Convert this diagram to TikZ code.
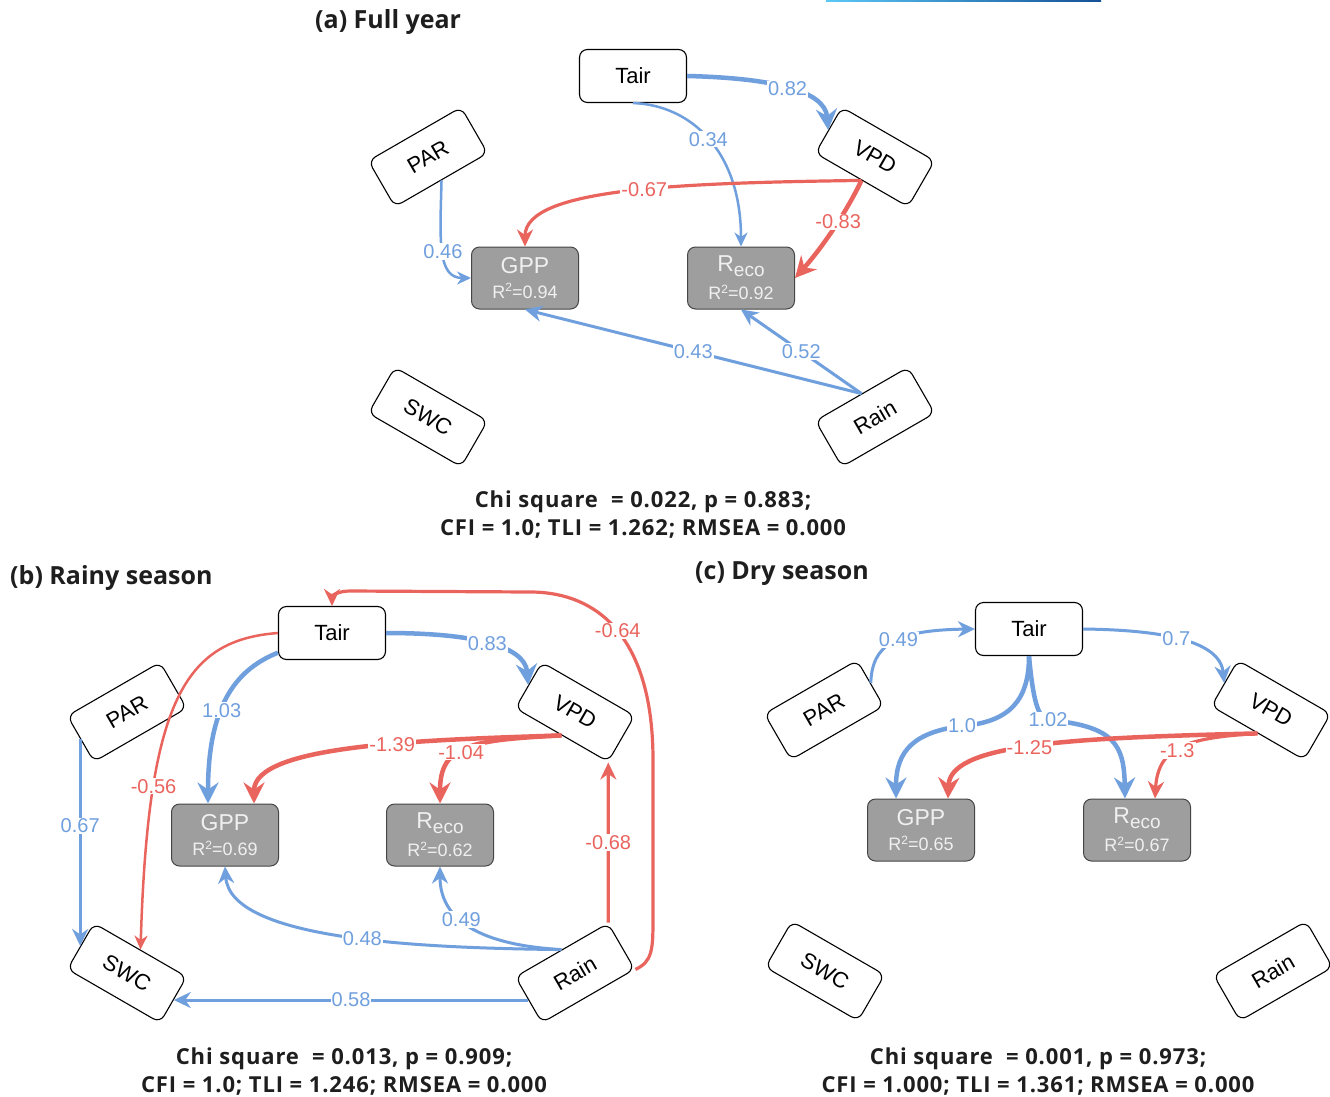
\documentclass[tikz,border=0pt]{standalone}
\usepackage{fontspec}
\setmainfont{Liberation Sans}
\newfontfamily\hdfont{Open Sans}
\newfontfamily\statfont{Open Sans}[LetterSpace=4]
\usetikzlibrary{arrows.meta,calc}
\definecolor{cblue}{RGB}{112,159,222}
\definecolor{cred}{RGB}{234,100,94}
\definecolor{boxgray}{RGB}{158,158,158}
\definecolor{boxline}{RGB}{70,70,70}
\definecolor{gradA}{RGB}{90,200,245}
\definecolor{gradB}{RGB}{20,80,150}
\definecolor{txtdark}{RGB}{30,30,30}
\newcommand{\gpptxt}[1]{{\fontsize{23}{23}\selectfont GPP}\\[9pt]{\fontsize{18}{18}\selectfont R\raisebox{6.5pt}{\fontsize{12}{12}\selectfont 2}=#1}}
\newcommand{\recotxt}[1]{{\fontsize{23}{23}\selectfont R\raisebox{-5pt}{\fontsize{19}{19}\selectfont eco}}\\[7pt]{\fontsize{18}{18}\selectfont R\raisebox{6.5pt}{\fontsize{12}{12}\selectfont 2}=#1}}
\begin{document}
\begin{tikzpicture}[x=1pt,y=-1pt,
 var/.style={draw=black, line width=1.1pt, rounded corners=8pt, fill=white, minimum width=107pt, minimum height=53pt, inner sep=0pt, font=\fontsize{22}{26}\selectfont},
 resp/.style={draw=boxline, line width=1pt, fill=boxgray, rounded corners=8pt, minimum width=107pt, minimum height=62pt, inner sep=0pt, text=white!94!black, align=center},
 bthin/.style={draw=cblue, line width=2.5pt, -{Stealth[length=14pt,width=13pt,inset=4.5pt]}},
 bmed/.style={draw=cblue, line width=3pt, -{Stealth[length=17pt,width=16pt,inset=5.5pt]}},
 bthick/.style={draw=cblue, line width=4.5pt, -{Stealth[length=21pt,width=21pt,inset=7pt]}},
 rthin/.style={draw=cred, line width=2.5pt, -{Stealth[length=14pt,width=13pt,inset=4.5pt]}},
 rmed/.style={draw=cred, line width=3.2pt, -{Stealth[length=17pt,width=16pt,inset=5.5pt]}},
 rthick/.style={draw=cred, line width=4.5pt, -{Stealth[length=21pt,width=21pt,inset=7pt]}},
 lb/.style={fill=white, text=cblue, inner sep=1pt, font=\fontsize{20}{22}\selectfont},
 lr/.style={fill=white, text=cred, inner sep=1pt, font=\fontsize{20}{22}\selectfont},
 ttl/.style={anchor=west, text=txtdark, inner sep=0pt, font=\hdfont\bfseries\fontsize{25}{28}\selectfont},
 stat/.style={align=center, text=txtdark, inner sep=0pt, font=\statfont\bfseries\fontsize{22}{28}\selectfont}
]
\path[use as bounding box, fill=white] (0,0) rectangle (1330,1097);
\shade[left color=gradA, right color=gradB] (826,0) rectangle (1101,2);

% ---------- (a) ----------
\node[ttl] (aT) at (315,22) {(a) Full year};
\node[var] (aTair) at (633,76) {Tair};
\node[var, rotate=30] (aPAR) at (428,157) {PAR};
\node[var, rotate=-30] (aVPD) at (875,157) {VPD};
\node[var, rotate=-30] (aSWC) at (428,417) {SWC};
\node[var, rotate=30] (aRain) at (875,417) {Rain};
\node[resp] (aGPP) at (525,278) {\gpptxt{0.94}};
\node[resp] (aReco) at (741,278) {\recotxt{0.92}};

\draw[bthick] (aTair.east) .. controls (770,78) and (825,90) .. (aVPD.west) node[lb,pos=0.5] (la1) {0.82};
\draw[bthin] (aTair.south) .. controls (690,105) and (741,150) .. (aReco.north) node[lb,pos=0.5] (la2) {0.34};
\draw[bthin] (aPAR.south) .. controls (440,240) and (437,278) .. (aGPP.west) node[lb,pos=0.5] (la3) {0.46};
\draw[rmed] (aVPD.south) .. controls (680,183) and (525,188) .. (aGPP.north) node[lr,pos=0.45] (la4) {-0.67};
\draw[rthick] (aVPD.south) .. controls (845,215) and (820,250) .. (aReco.east) node[lr,pos=0.4] (la5) {-0.83};
\draw[bmed] (aRain.north) -- (aGPP.south) node[lb,pos=0.5] (la6) {0.43};
\draw[bmed] (aRain.north) -- (aReco.south) node[lb,pos=0.5] (la7) {0.52};
\node[stat] (aStat) at (643,515) {Chi square~~= 0.022, p = 0.883;\\CFI = 1.0; TLI = 1.262; RMSEA = 0.000};

% ---------- (b) ----------
\node[ttl] (bT) at (10,578) {(b) Rainy season};
\node[var] (bTair) at (332,633) {Tair};
\node[var, rotate=30] (bPAR) at (127,712) {PAR};
\node[var, rotate=-30] (bVPD) at (575,712) {VPD};
\node[var, rotate=-30] (bSWC) at (127,973) {SWC};
\node[var, rotate=30] (bRain) at (575,973) {Rain};
\node[resp] (bGPP) at (225,835) {\gpptxt{0.69}};
\node[resp] (bReco) at (440,835) {\recotxt{0.62}};

\draw[bthick] (bTair.east) .. controls (470,633) and (525,645) .. (bVPD.west) node[lb,pos=0.5] (lb1) {0.83};
\draw[bthick] (bTair.200) .. controls (240,668) and (208,700) .. ($(bGPP.north)+(-17,0)$) node[lb,pos=0.6] (lb2) {1.03};
\draw[rthin] (bTair.west) .. controls (185,640) and (148,700) .. (bSWC.north) node[lr,pos=0.73] (lb3) {-0.56};
\draw[bmed] (bPAR.west) -- (bSWC.west) node[lb,pos=0.42] (lb4) {0.67};
\draw[rmed] (bRain.south east) .. controls (652,962) and (653,950) .. (653,920) -- (653,760) .. controls (653,640) and (600,592) .. (530,592) node[lr,pos=0.5] (lb5) {-0.64} -- (350,591) .. controls (338,591) and (332,596) .. (bTair.north);
\draw[rmed] (bRain.north east) -- (bVPD.south east) node[lr,pos=0.5] (lb6) {-0.68};
\draw[rthick] (bVPD.south) .. controls (420,740) and (254,745) .. ($(bGPP.north)+(29,0)$) node[lr,pos=0.4] (lb7) {-1.39};
\draw[rthick] (bVPD.south) .. controls (470,740) and (440,745) .. (bReco.north) node[lr,pos=0.55] (lb8) {-1.04};
\draw[bmed] (bRain.north) .. controls (420,948) and (230,940) .. (bGPP.south) node[lb,pos=0.45] (lb9) {0.48};
\draw[bmed] (bRain.north) .. controls (480,945) and (440,920) .. (bReco.south) node[lb,pos=0.58] (lb10) {0.49};
\draw[bmed] (bRain.west) -- (bSWC.east) node[lb,pos=0.5] (lb11) {0.58};
\node[stat] (bStat) at (344,1072) {Chi square~~= 0.013, p = 0.909;\\CFI = 1.0; TLI = 1.246; RMSEA = 0.000};

% ---------- (c) ----------
\node[ttl] (cT) at (695,574) {(c) Dry season};
\node[var] (cTair) at (1029,629) {Tair};
\node[var, rotate=30] (cPAR) at (824,710) {PAR};
\node[var, rotate=-30] (cVPD) at (1271,710) {VPD};
\node[var, rotate=-30] (cSWC) at (825,971) {SWC};
\node[var, rotate=30] (cRain) at (1273,971) {Rain};
\node[resp] (cGPP) at (921,830) {\gpptxt{0.65}};
\node[resp] (cReco) at (1137,830) {\recotxt{0.67}};

\draw[bmed] (cPAR.east) .. controls (872,645) and (895,630) .. (cTair.west) node[lb,pos=0.55] (lc1) {0.49};
\draw[bmed] (cTair.east) .. controls (1160,630) and (1220,640) .. (cVPD.west) node[lb,pos=0.47] (lc2) {0.7};
\draw[bthick] (cTair.south) .. controls (1029,700) and (1010,722) .. (962,726) node[lb] (lc3) {1.0} .. controls (915,732) and (896,750) .. ($(cGPP.north)+(-25,0)$);
\draw[bthick] (cTair.south) .. controls (1033,700) and (1038,718) .. (1048,720) node[lb] (lc4) {1.02} .. controls (1115,726) and (1124,745) .. ($(cReco.north)+(-12,0)$);
\draw[rthick] (cVPD.south) .. controls (1060,738) and (950,745) .. ($(cGPP.north)+(27,0)$) node[lr,pos=0.5] (lc5) {-1.25};
\draw[rmed] (cVPD.south) .. controls (1190,738) and (1158,745) .. ($(cReco.north)+(18,0)$) node[lr,pos=0.55] (lc6) {-1.3};
\node[stat] (cStat) at (1038,1072) {Chi square~~= 0.001, p = 0.973;\\CFI = 1.000; TLI = 1.361; RMSEA = 0.000};
\end{tikzpicture}
\end{document}
